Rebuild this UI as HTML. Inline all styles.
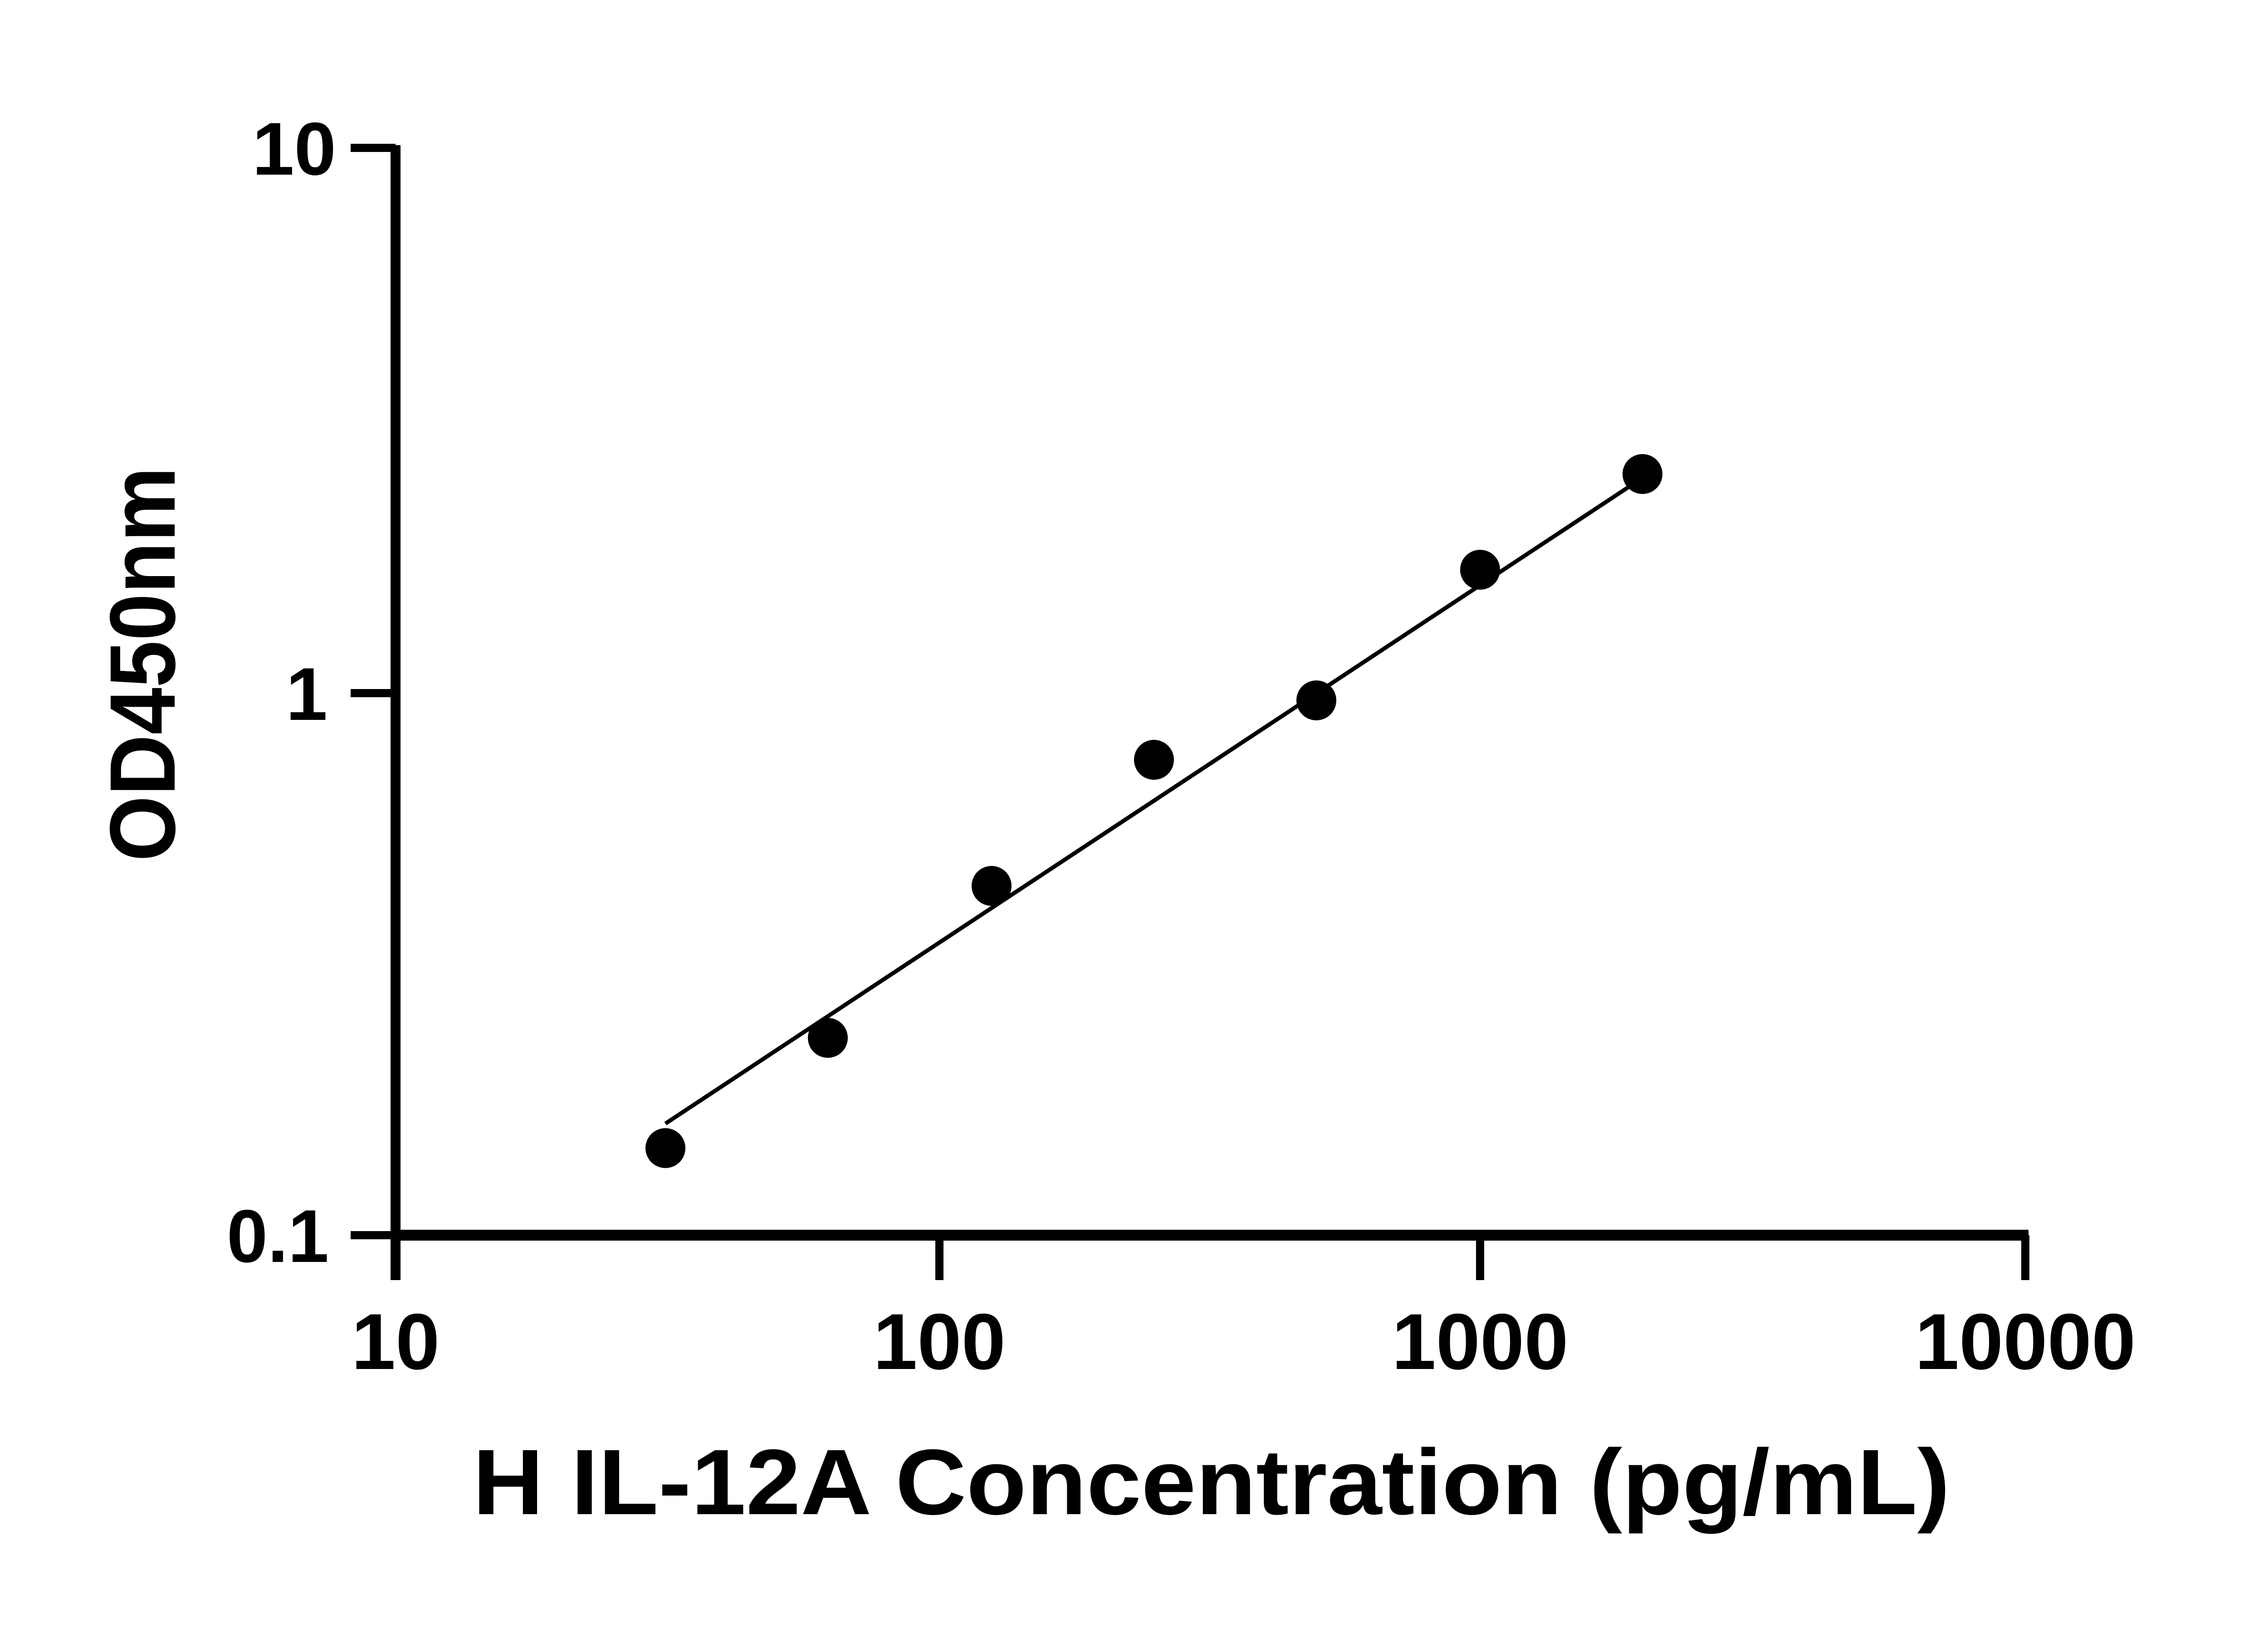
<!DOCTYPE html>
<html><head><style>html,body{margin:0;padding:0;background:#fff;}svg{display:block;}</style></head>
<body>
<svg width="5034" height="3600" xmlns="http://www.w3.org/2000/svg" font-family="Liberation Sans, sans-serif" font-weight="bold">
<rect width="5034" height="3600" fill="#fff"/>
<!-- axes -->
<line x1="872" y1="320" x2="872" y2="2822" stroke="#000" stroke-width="22"/>
<line x1="862" y1="2723" x2="4472" y2="2723" stroke="#000" stroke-width="24"/>
<g stroke="#000" stroke-width="18">
<line x1="773" y1="326" x2="872" y2="326"/>
<line x1="773" y1="1528" x2="872" y2="1528"/>
<line x1="773" y1="2723" x2="872" y2="2723"/>
<line x1="872" y1="2723" x2="872" y2="2822"/>
<line x1="2071" y1="2723" x2="2071" y2="2822"/>
<line x1="3263" y1="2723" x2="3263" y2="2822"/>
<line x1="4465" y1="2723" x2="4465" y2="2822"/>
</g>
<g font-size="165" text-anchor="end">
<text x="741" y="385" textLength="185" lengthAdjust="spacingAndGlyphs">10</text>
<text x="722" y="1587">1</text>
<text x="725" y="2782" textLength="225" lengthAdjust="spacingAndGlyphs">0.1</text>
</g>
<g font-size="175" text-anchor="middle">
<text x="872" y="3018">10</text>
<text x="2071" y="3018">100</text>
<text x="3263" y="3018">1000</text>
<text x="4465" y="3018">10000</text>
</g>
<text x="1042" y="3338" font-size="205" textLength="3257" lengthAdjust="spacingAndGlyphs">H IL-12A Concentration (pg/mL)</text>
<text transform="translate(385,1464) rotate(-90)" font-size="205" text-anchor="middle" textLength="870" lengthAdjust="spacingAndGlyphs">OD450nm</text>
<line x1="1467" y1="2477" x2="3605" y2="1064" stroke="#000" stroke-width="9"/>
<g fill="#000">
<circle cx="1467" cy="2531" r="44"/>
<circle cx="1825" cy="2288" r="44"/>
<circle cx="2186" cy="1953" r="44"/>
<circle cx="2544" cy="1675" r="44"/>
<circle cx="2902" cy="1544" r="44"/>
<circle cx="3263" cy="1256" r="44"/>
<circle cx="3621" cy="1045" r="44"/>
</g>
</svg>
</body></html>
